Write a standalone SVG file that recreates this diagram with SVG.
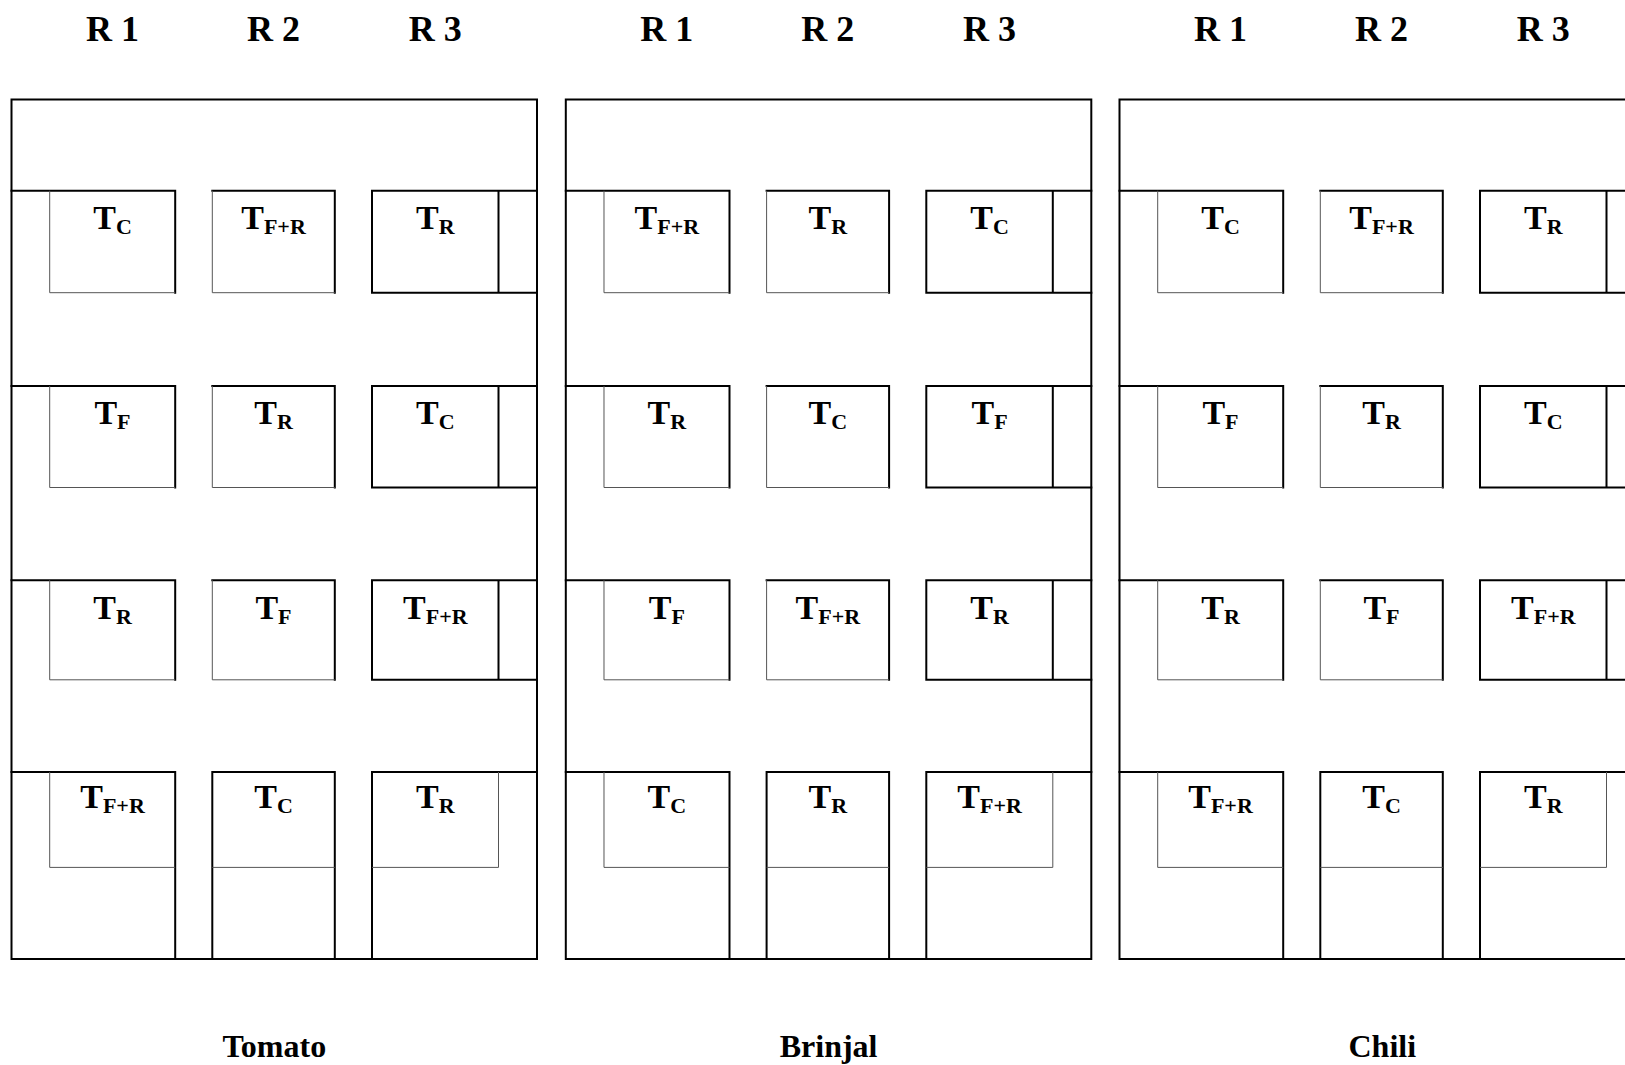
<svg xmlns="http://www.w3.org/2000/svg" xmlns:xlink="http://www.w3.org/1999/xlink" width="1625" height="1065" viewBox="0 0 1625 1065">
<style>
.k{fill:none;stroke:#000;stroke-width:2;stroke-linecap:square}
.n{fill:none;stroke:#555;stroke-width:1}
text{font-family:"Liberation Serif","Times New Roman",serif;font-weight:bold;fill:#000;text-anchor:middle}
.t{font-size:34px}
.s{font-size:22px}
.h{font-size:36px}
.l{font-size:32px}
</style>
<defs>
<g id="frame">
<rect class="k" x="0" y="99.5" width="525.5" height="859.5"/>
<path class="k" d="M0,190.7H163.7M163.7,190.7V292.7M200.8,190.7H323.3M323.3,190.7V292.7M360.5,190.7H525.5M360.5,292.7H525.5M360.5,190.7V292.7M487,190.7V292.7"/>
<path class="n" d="M38.2,190.7V292.7H163.7M200.8,190.7V292.7H323.3"/>
<path class="k" d="M0,386H163.7M163.7,386V487.5M200.8,386H323.3M323.3,386V487.5M360.5,386H525.5M360.5,487.5H525.5M360.5,386V487.5M487,386V487.5"/>
<path class="n" d="M38.2,386V487.5H163.7M200.8,386V487.5H323.3"/>
<path class="k" d="M0,580.2H163.7M163.7,580.2V679.8M200.8,580.2H323.3M323.3,580.2V679.8M360.5,580.2H525.5M360.5,679.8H525.5M360.5,580.2V679.8M487,580.2V679.8"/>
<path class="n" d="M38.2,580.2V679.8H163.7M200.8,580.2V679.8H323.3"/>
<path class="k" d="M0,772H163.7M163.7,772V959M200.8,772H323.3M200.8,772V959M323.3,772V959M360.5,772H525.5M360.5,772V959"/>
<path class="n" d="M38.2,772V867.4H163.7M200.8,867.4H323.3M487,772V867.4H360.5"/>
</g>
</defs>

<g id="connectors"></g>

<g id="tomato" transform="translate(11.5,0)">
<use xlink:href="#frame" href="#frame"/>
<g id="tomato-head"><text class="h" x="101" y="40.7">R 1</text><text class="h" x="262" y="40.7">R 2</text><text class="h" x="423.8" y="40.7">R 3</text></g>
<g id="tomato-r1c1"><text class="t" x="101" y="228.5">T<tspan class="s" dy="5">C</tspan></text></g>
<g id="tomato-r1c2"><text class="t" x="262" y="228.5">T<tspan class="s" dy="5">F+R</tspan></text></g>
<g id="tomato-r1c3"><text class="t" x="423.8" y="228.5">T<tspan class="s" dy="5">R</tspan></text></g>
<g id="tomato-r2c1"><text class="t" x="101" y="424">T<tspan class="s" dy="5">F</tspan></text></g>
<g id="tomato-r2c2"><text class="t" x="262" y="424">T<tspan class="s" dy="5">R</tspan></text></g>
<g id="tomato-r2c3"><text class="t" x="423.8" y="424">T<tspan class="s" dy="5">C</tspan></text></g>
<g id="tomato-r3c1"><text class="t" x="101" y="618.5">T<tspan class="s" dy="5">R</tspan></text></g>
<g id="tomato-r3c2"><text class="t" x="262" y="618.5">T<tspan class="s" dy="5">F</tspan></text></g>
<g id="tomato-r3c3"><text class="t" x="423.8" y="618.5">T<tspan class="s" dy="5">F+R</tspan></text></g>
<g id="tomato-r4c1"><text class="t" x="101" y="807.5">T<tspan class="s" dy="5">F+R</tspan></text></g>
<g id="tomato-r4c2"><text class="t" x="262" y="807.5">T<tspan class="s" dy="5">C</tspan></text></g>
<g id="tomato-r4c3"><text class="t" x="423.8" y="807.5">T<tspan class="s" dy="5">R</tspan></text></g>
<g id="tomato-label"><text class="l" x="262.8" y="1056.5">Tomato</text></g>
</g>

<g id="brinjal" transform="translate(565.8,0)">
<use xlink:href="#frame" href="#frame"/>
<g id="brinjal-head"><text class="h" x="101" y="40.7">R 1</text><text class="h" x="262" y="40.7">R 2</text><text class="h" x="423.8" y="40.7">R 3</text></g>
<g id="brinjal-r1c1"><text class="t" x="101" y="228.5">T<tspan class="s" dy="5">F+R</tspan></text></g>
<g id="brinjal-r1c2"><text class="t" x="262" y="228.5">T<tspan class="s" dy="5">R</tspan></text></g>
<g id="brinjal-r1c3"><text class="t" x="423.8" y="228.5">T<tspan class="s" dy="5">C</tspan></text></g>
<g id="brinjal-r2c1"><text class="t" x="101" y="424">T<tspan class="s" dy="5">R</tspan></text></g>
<g id="brinjal-r2c2"><text class="t" x="262" y="424">T<tspan class="s" dy="5">C</tspan></text></g>
<g id="brinjal-r2c3"><text class="t" x="423.8" y="424">T<tspan class="s" dy="5">F</tspan></text></g>
<g id="brinjal-r3c1"><text class="t" x="101" y="618.5">T<tspan class="s" dy="5">F</tspan></text></g>
<g id="brinjal-r3c2"><text class="t" x="262" y="618.5">T<tspan class="s" dy="5">F+R</tspan></text></g>
<g id="brinjal-r3c3"><text class="t" x="423.8" y="618.5">T<tspan class="s" dy="5">R</tspan></text></g>
<g id="brinjal-r4c1"><text class="t" x="101" y="807.5">T<tspan class="s" dy="5">C</tspan></text></g>
<g id="brinjal-r4c2"><text class="t" x="262" y="807.5">T<tspan class="s" dy="5">R</tspan></text></g>
<g id="brinjal-r4c3"><text class="t" x="423.8" y="807.5">T<tspan class="s" dy="5">F+R</tspan></text></g>
<g id="brinjal-label"><text class="l" x="262.8" y="1056.5">Brinjal</text></g>
</g>

<g id="chili" transform="translate(1119.5,0)">
<use xlink:href="#frame" href="#frame"/>
<g id="chili-head"><text class="h" x="101" y="40.7">R 1</text><text class="h" x="262" y="40.7">R 2</text><text class="h" x="423.8" y="40.7">R 3</text></g>
<g id="chili-r1c1"><text class="t" x="101" y="228.5">T<tspan class="s" dy="5">C</tspan></text></g>
<g id="chili-r1c2"><text class="t" x="262" y="228.5">T<tspan class="s" dy="5">F+R</tspan></text></g>
<g id="chili-r1c3"><text class="t" x="423.8" y="228.5">T<tspan class="s" dy="5">R</tspan></text></g>
<g id="chili-r2c1"><text class="t" x="101" y="424">T<tspan class="s" dy="5">F</tspan></text></g>
<g id="chili-r2c2"><text class="t" x="262" y="424">T<tspan class="s" dy="5">R</tspan></text></g>
<g id="chili-r2c3"><text class="t" x="423.8" y="424">T<tspan class="s" dy="5">C</tspan></text></g>
<g id="chili-r3c1"><text class="t" x="101" y="618.5">T<tspan class="s" dy="5">R</tspan></text></g>
<g id="chili-r3c2"><text class="t" x="262" y="618.5">T<tspan class="s" dy="5">F</tspan></text></g>
<g id="chili-r3c3"><text class="t" x="423.8" y="618.5">T<tspan class="s" dy="5">F+R</tspan></text></g>
<g id="chili-r4c1"><text class="t" x="101" y="807.5">T<tspan class="s" dy="5">F+R</tspan></text></g>
<g id="chili-r4c2"><text class="t" x="262" y="807.5">T<tspan class="s" dy="5">C</tspan></text></g>
<g id="chili-r4c3"><text class="t" x="423.8" y="807.5">T<tspan class="s" dy="5">R</tspan></text></g>
<g id="chili-label"><text class="l" x="262.8" y="1056.5">Chili</text></g>
</g>
</svg>
